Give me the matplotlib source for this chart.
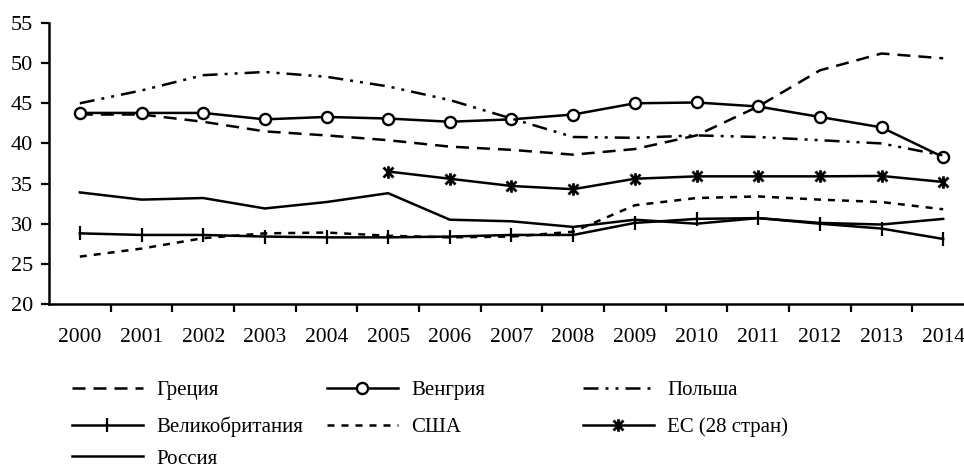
import numpy as np
import matplotlib
matplotlib.use("Agg")
import matplotlib.pyplot as plt
from matplotlib.path import Path

plt.rcParams['font.family'] = ['Liberation Serif', 'DejaVu Serif']

# data
years = [str(y) for y in range(2000, 2015)]
greece = [43.6, 43.6, 42.7, 41.5, 41.0, 40.4, 39.6, 39.2, 38.6, 39.3, 41.0, 44.6, 49.1, 51.2, 50.6]
hungary = [43.8, 43.8, 43.8, 43.0, 43.3, 43.1, 42.7, 43.0, 43.6, 45.0, 45.1, 44.6, 43.3, 42.0, 38.3]
poland = [45.0, 46.6, 48.5, 48.9, 48.3, 47.1, 45.4, 43.1, 40.8, 40.7, 41.0, 40.8, 40.4, 40.0, 38.5]
uk = [28.8, 28.6, 28.6, 28.4, 28.3, 28.3, 28.4, 28.6, 28.6, 30.1, 30.6, 30.7, 30.0, 29.4, 28.1]
usa = [25.9, 26.9, 28.2, 28.8, 28.9, 28.5, 28.3, 28.4, 29.0, 32.3, 33.2, 33.4, 33.0, 32.7, 31.8]
eu28 = [np.nan] * 5 + [36.5, 35.6, 34.7, 34.3, 35.6, 35.9, 35.9, 35.9, 35.95, 35.2]
russia = [33.9, 33.0, 33.2, 31.9, 32.7, 33.8, 30.5, 30.3, 29.6, 30.5, 30.0, 30.7, 30.1, 29.9, 30.6]

W, H = 964, 472
fig = plt.figure(figsize=(W / 100, H / 100), dpi=100)
ax = fig.add_axes([49 / W, (H - 304) / H, 925 / W, 281 / H])

# excel-like star marker: X with a vertical bar
star = Path([(0, -1), (0, 1), (-0.8, -0.8), (0.8, 0.8), (-0.8, 0.8), (0.8, -0.8)],
            [Path.MOVETO, Path.LINETO] * 3)

x = np.arange(len(years))
lw = 1.8
series = [
    ("Греция", greece, dict(ls=(0, (5.2, 3.2)))),
    ("Венгрия", hungary, dict(marker='o', ms=8, mfc='white', mec='black', mew=1.7)),
    ("Польша", poland, dict(ls=(0, (6, 2.8, 1.2, 2.8, 1.2, 2.8)))),
    ("Великобритания", uk, dict(marker='|', ms=10, mew=1.6)),
    ("США", usa, dict(ls=(0, (2.8, 2.8)))),
    ("ЕС (28 стран)", eu28, dict(marker=star, ms=9, mew=2, mfc='none', mec='black')),
    ("Россия", russia, dict()),
]

handles = []
for name, vals, st in series:
    h, = ax.plot(x, vals, label=name, color='black', lw=lw, **st)
    handles.append(h)

ax.set_xlim(-0.5, len(years) - 0.5)
ax.set_ylim(20, 55)
ax.set_yticks(range(20, 56, 5))
ax.set_xticks(np.arange(0.5, len(years) - 0.5, 1.0))
ax.set_xticklabels([])
ax.set_xticks(x, minor=True)
ax.set_xticklabels(years, minor=True)
ax.tick_params(axis='x', which='major', direction='out', length=6, width=1.6)
ax.tick_params(axis='x', which='minor', length=0, pad=17, labelsize=15.5)
ax.tick_params(axis='y', direction='out', length=5.5, width=1.6, pad=6, labelsize=16)
for s in ['top', 'right']:
    ax.spines[s].set_visible(False)
for s in ['left', 'bottom']:
    ax.spines[s].set_linewidth(1.8)

# legend laid out on a 3-column grid below the axes
col_x = [72, 327, 583]
row_y = [390, 427, 459]
for i, h in enumerate(handles):
    c, r = i % 3, i // 3
    fig.legend(handles=[h], loc='center left',
               bbox_to_anchor=(col_x[c] / W, 1 - row_y[r] / H),
               frameon=False, borderpad=0, borderaxespad=0,
               handlelength=3.4, handletextpad=0.65, numpoints=1,
               fontsize=15)

fig.savefig("out.png", dpi=100)
